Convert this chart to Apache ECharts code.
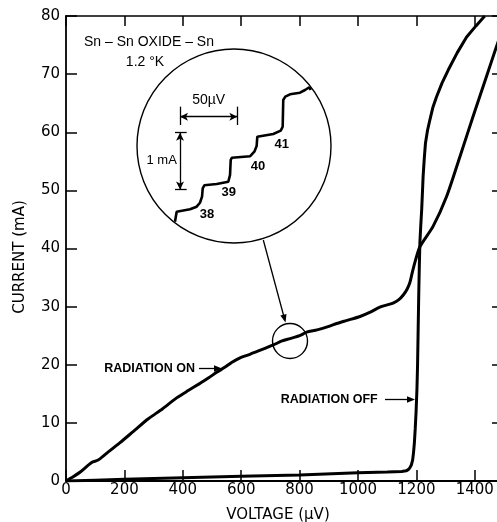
<!DOCTYPE html>
<html><head><meta charset="utf-8">
<script src="https://cdn.jsdelivr.net/npm/echarts@6/dist/echarts.min.js"></script>
<style>html,body{margin:0;padding:0;background:#fff}#c{width:497px;height:522px}</style>
</head><body><div id="c"></div>
<script>
// ---- main curves (voltage in µV, current in mA) ----
const onVoltage = [0, 20, 50, 88, 110, 140, 185, 230, 282, 330, 379, 420, 459, 490, 516, 545, 567, 596, 630, 670, 710, 740, 767, 800, 824, 860, 900, 927, 960, 1007, 1040, 1075, 1100, 1120, 1140, 1155, 1168, 1178, 1186, 1197, 1212, 1257, 1303, 1349, 1394, 1440, 1474, 1500];
const onCurrent = [0, 0.6, 1.6, 3.2, 3.6, 4.8, 6.6, 8.5, 10.7, 12.4, 14.3, 15.6, 16.8, 17.8, 18.7, 19.6, 20.4, 21.2, 21.8, 22.6, 23.4, 24.1, 24.5, 25.0, 25.6, 26.0, 26.6, 27.1, 27.6, 28.3, 29.0, 29.9, 30.3, 30.6, 31.2, 32.0, 33.0, 34.2, 35.9, 38.0, 40.3, 43.8, 48.9, 55.8, 62.7, 69.6, 74.7, 78.5];
const offVoltage = [0, 100, 200, 400, 600, 800, 1000, 1100, 1150, 1165, 1172, 1178, 1183, 1187, 1190, 1193, 1196, 1199, 1202, 1204, 1206, 1208, 1210, 1212, 1215, 1218, 1221, 1223, 1227, 1231, 1238, 1246, 1256, 1269, 1288, 1309, 1340, 1372, 1404, 1434];
const offCurrent = [0, 0.15, 0.3, 0.55, 0.8, 1.05, 1.4, 1.55, 1.65, 1.75, 1.95, 2.3, 2.8, 3.6, 4.8, 6.5, 9, 12, 16, 20, 26, 32, 37, 41, 44, 46.6, 50, 52.4, 55.5, 58.1, 60.3, 62.1, 64.2, 66.1, 68.5, 70.7, 73.7, 76.4, 78.3, 80];
// ---- inset staircase (relative µV, relative mA) ----
const insetVoltage = [33.1, 34.0, 34.6, 36.0, 46.2, 52.0, 54.9, 56.7, 57.3, 58.7, 69.5, 79.6, 81.1, 81.7, 82.8, 98.5, 102.3, 104.3, 104.9, 106.6, 118.8, 125.3, 127.0, 127.5, 129.3, 133.4, 142.1, 146.5, 150.2, 151.4];
const insetCurrent = [0.358, 0.388, 0.534, 0.564, 0.576, 0.622, 0.692, 0.798, 0.946, 0.999, 1.022, 1.062, 1.180, 1.445, 1.485, 1.510, 1.591, 1.691, 1.855, 1.868, 1.903, 1.961, 2.031, 2.502, 2.560, 2.602, 2.630, 2.678, 2.726, 2.678];
const stepNumbers = ['38', '39', '40', '41'];
const scaleBarVoltage = 50; // µV
const scaleBarCurrent = 1;  // mA
const xAxisTitle = 'VOLTAGE (μV)';
const yAxisTitle = 'CURRENT (mA)';
const sampleTitle = 'Sn – Sn OXIDE – Sn';
const temperatureText = '1.2 °K';

const zip = (a, b) => a.map((v, i) => [v, b[i]]);
const chart = echarts.init(document.getElementById('c'), null, {renderer: 'canvas'});

const tickFont = {fontFamily: 'DejaVu Sans', fontSize: 15, color: '#000', formatter: (v) => String(v)};
const mainLine = {show: true, onZero: false, lineStyle: {color: '#000', width: 1.8}};
const frameLine = {show: true, onZero: false, lineStyle: {color: '#000', width: 1.5}};
const inTick = (len) => ({show: true, inside: true, length: len, lineStyle: {color: '#000', width: 1.5}});

function arrow(x1, y1, x2, y2, len, hw) {
  len = len || 8; hw = hw || 3.2;
  const dx = x2 - x1, dy = y2 - y1, L = Math.hypot(dx, dy), ux = dx / L, uy = dy / L;
  const bx = x2 - ux * len, by = y2 - uy * len;
  return [
    {type: 'line', silent: true, shape: {x1: x1, y1: y1, x2: bx + ux, y2: by + uy}, style: {stroke: '#000', lineWidth: 1.3}},
    {type: 'polygon', silent: true, shape: {points: [[x2, y2], [bx - uy * hw, by + ux * hw], [bx + uy * hw, by - ux * hw]]}, style: {fill: '#000'}}
  ];
}
const txt = (x, y, s, opt) => Object.assign({type: 'text', x: x, y: y, silent: true,
  style: Object.assign({text: s, fill: '#000', fontFamily: 'Liberation Sans', fontSize: 14, align: 'center', verticalAlign: 'middle'}, opt || {})});

const stepPos = [[207, 214.7], [228.8, 192.2], [258, 166.7], [281.7, 144.7]];

const graphics = [
  {type: 'circle', silent: true, shape: {cx: 234, cy: 146, r: 97}, style: {fill: 'none', stroke: '#000', lineWidth: 1.4}},
  {type: 'circle', silent: true, shape: {cx: 290, cy: 341, r: 17.5}, style: {fill: 'none', stroke: '#000', lineWidth: 1.4}},
  ...arrow(263.3, 240, 285.5, 322.5),
  ...arrow(199, 368.5, 222, 368.5),
  ...arrow(385, 399.5, 415, 399.5),
  txt(149, 41.7, sampleTitle),
  txt(145, 61.7, temperatureText),
  txt(208.7, 100, '50µV'),
  txt(161.7, 160, '1 mA', {fontSize: 13}),
  txt(195, 369, 'RADIATION ON', {align: 'right', fontWeight: 'bold', fontSize: 12.5}),
  txt(280.7, 400, 'RADIATION OFF', {align: 'left', fontWeight: 'bold', fontSize: 12.5}),
  ...stepNumbers.map((s, i) => txt(stepPos[i][0], stepPos[i][1], s, {fontWeight: 'bold', fontSize: 13}))
];

const option = {
  animation: false,
  backgroundColor: '#fff',
  grid: [
    {left: 66, top: 16, width: 438, height: 465, outerBoundsMode: 'none', containLabel: false},
    {left: 137, top: 49, width: 195, height: 193, outerBoundsMode: 'none', containLabel: false}
  ],
  xAxis: [
    {type: 'value', gridIndex: 0, position: 'bottom', min: 0, max: 1500, interval: 200,
     axisLine: mainLine, axisTick: inTick(11), splitLine: {show: false},
     axisLabel: Object.assign({margin: 2, showMaxLabel: false}, tickFont),
     name: xAxisTitle, nameLocation: 'middle', nameGap: 27,
     nameTextStyle: {fontFamily: 'DejaVu Sans', fontSize: 15, color: '#000', padding: [0, 14, 0, 0]}},
    {type: 'value', gridIndex: 0, position: 'top', min: 0, max: 1500, interval: 200,
     axisLine: frameLine, axisTick: inTick(10),
     splitLine: {show: false}, axisLabel: {show: false}},
    {type: 'value', gridIndex: 1, min: 0, max: 170, show: false, splitLine: {show: false}}
  ],
  yAxis: [
    {type: 'value', gridIndex: 0, position: 'left', min: 0, max: 80, interval: 10,
     axisLine: mainLine, axisTick: inTick(11), splitLine: {show: false},
     axisLabel: Object.assign({margin: 6}, tickFont),
     name: yAxisTitle, nameLocation: 'middle', nameGap: 38,
     nameTextStyle: {fontFamily: 'DejaVu Sans', fontSize: 15, color: '#000', padding: [0, 17, 0, 0]}},
    {type: 'value', gridIndex: 0, position: 'right', min: 0, max: 80, interval: 10,
     axisLine: frameLine, axisTick: inTick(12),
     splitLine: {show: false}, axisLabel: {show: false}},
    {type: 'value', gridIndex: 1, min: 0, max: 3.4, show: false, splitLine: {show: false}}
  ],
  series: [
    {name: 'Radiation on', type: 'line', xAxisIndex: 0, yAxisIndex: 0, data: zip(onVoltage, onCurrent),
     showSymbol: false, symbol: 'none', silent: true, smooth: 0.25, lineStyle: {color: '#000', width: 3}, z: 3},
    {name: 'Radiation off', type: 'line', xAxisIndex: 0, yAxisIndex: 0, data: zip(offVoltage, offCurrent),
     showSymbol: false, symbol: 'none', silent: true, lineStyle: {color: '#000', width: 3}, z: 3},
    {name: 'Steps', type: 'line', xAxisIndex: 2, yAxisIndex: 2, data: zip(insetVoltage, insetCurrent),
     showSymbol: false, symbol: 'none', silent: true, clip: false, lineStyle: {color: '#000', width: 2.6}, z: 3,
     markLine: {
       silent: true, animation: false, symbol: ['arrow', 'arrow'], symbolSize: [6, 8],
       label: {show: false}, emphasis: {disabled: true},
       lineStyle: {color: '#000', width: 1.3, type: 'solid'},
       data: [
         [{coord: [37.5, 2.207]}, {coord: [37.5 + scaleBarVoltage, 2.207]}],
         [{coord: [37.5, 2.384], symbol: 'none'}, {coord: [37.5, 2.061], symbol: 'none'}],
         [{coord: [37.5 + scaleBarVoltage, 2.384], symbol: 'none'}, {coord: [37.5 + scaleBarVoltage, 2.061], symbol: 'none'}],
         [{coord: [37.5, 1.926]}, {coord: [37.5, 1.926 - scaleBarCurrent]}],
         [{coord: [33.1, 1.926], symbol: 'none'}, {coord: [43.3, 1.926], symbol: 'none'}],
         [{coord: [33.1, 1.926 - scaleBarCurrent], symbol: 'none'}, {coord: [43.3, 1.926 - scaleBarCurrent], symbol: 'none'}]
       ]
     }}
  ],
  graphic: graphics
};
chart.setOption(option);
</script>
</body></html>
